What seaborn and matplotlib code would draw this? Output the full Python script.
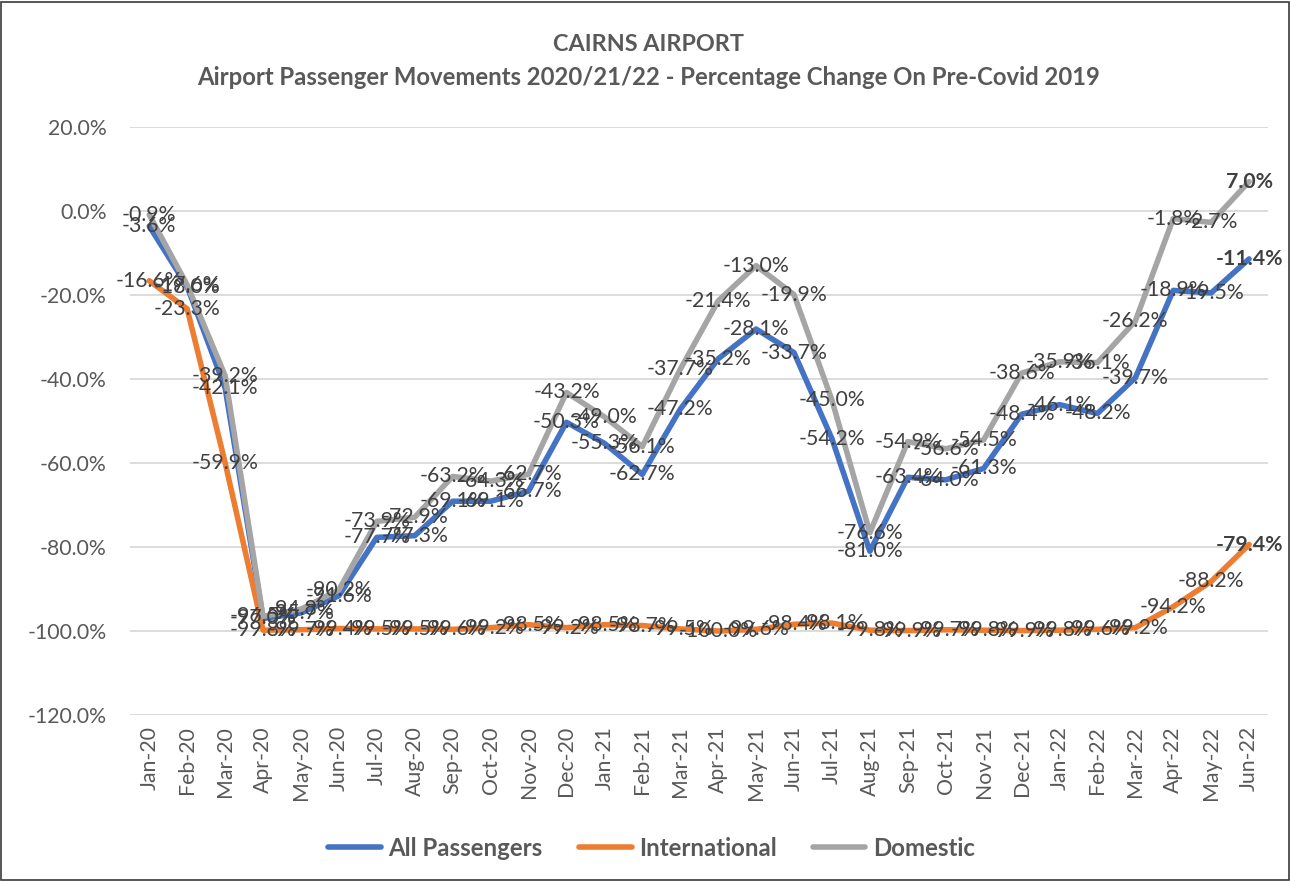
import numpy as np
import pandas as pd
import matplotlib
matplotlib.use("Agg")
import matplotlib.pyplot as plt
import seaborn as sns
from matplotlib.patches import Rectangle

# Chart data (percentage change on 2019)
months = ['Jan-20', 'Feb-20', 'Mar-20', 'Apr-20', 'May-20', 'Jun-20', 'Jul-20', 'Aug-20',
          'Sep-20', 'Oct-20', 'Nov-20', 'Dec-20', 'Jan-21', 'Feb-21', 'Mar-21', 'Apr-21',
          'May-21', 'Jun-21', 'Jul-21', 'Aug-21', 'Sep-21', 'Oct-21', 'Nov-21', 'Dec-21',
          'Jan-22', 'Feb-22', 'Mar-22', 'Apr-22', 'May-22', 'Jun-22']
all_pax = [-3.6, -18.0, -42.1, -97.0, -95.7, -91.6, -77.7, -77.3, -69.1, -69.1,
           -66.7, -50.3, -55.3, -62.7, -47.2, -35.2, -28.1, -33.7, -54.2, -81.0,
           -63.4, -64.0, -61.3, -48.4, -46.1, -48.2, -39.7, -18.9, -19.5, -11.4]
international = [-16.6, -23.3, -59.9, -99.8, -99.7, -99.4, -99.5, -99.5, -99.6, -99.2,
                 -98.5, -99.2, -98.5, -98.7, -99.5, -100.0, -99.6, -98.4, -98.1, -99.8,
                 -99.9, -99.7, -99.8, -99.9, -99.8, -99.6, -99.2, -94.2, -88.2, -79.4]
domestic = [-0.9, -17.6, -39.2, -96.5, -94.8, -90.2, -73.9, -72.9, -63.2, -64.3,
            -62.7, -43.2, -49.0, -56.1, -37.7, -21.4, -13.0, -19.9, -45.0, -76.6,
            -54.9, -56.6, -54.5, -38.6, -35.9, -36.1, -26.2, -1.8, -2.7, 7.0]

series = {'All Passengers': all_pax, 'International': international, 'Domestic': domestic}
colors = {'All Passengers': '#4472C4', 'International': '#ED7D31', 'Domestic': '#A5A5A5'}

df = pd.DataFrame({'Month': months * 3,
                   'idx': list(range(len(months))) * 3,
                   'Series': sum([[k] * len(months) for k in series], []),
                   'Value': sum([v for v in series.values()], [])})

sns.set_style("white")
plt.rcParams['font.family'] = ['Lato', 'DejaVu Sans']

fig = plt.figure(figsize=(12.9, 8.81), dpi=100)
ax = fig.add_axes([0.101, 0.1884, 0.882, 0.6674])

sns.lineplot(data=df, x='idx', y='Value', hue='Series', palette=colors,
             linewidth=4, ax=ax, legend=False, zorder=3)

# Data labels, centred on points
for name, vals in series.items():
    for i, v in enumerate(vals):
        last = i == len(vals) - 1
        ax.text(i, v, f"{v:.1f}%", ha='center', va='center', fontsize=15.3,
                color='#404040', fontweight='bold' if last else 'normal', zorder=5)

ax.set_xlim(-0.5, len(months) - 0.5)
ax.set_ylim(-120, 20)
ax.set_yticks(np.arange(-120, 21, 20))
ax.set_yticklabels([f"{t:.1f}%" for t in np.arange(-120, 21, 20)])
ax.set_xticks(range(len(months)))
ax.set_xticklabels(months, rotation=90)
ax.tick_params(axis='both', length=0, labelsize=15.3, labelcolor='#595959')
ax.tick_params(axis='y', pad=17)
ax.tick_params(axis='x', pad=8)
ax.grid(axis='y', color='#D9D9D9', linewidth=1.3)
ax.set_axisbelow(True)
for s in ax.spines.values():
    s.set_visible(False)
ax.set_xlabel('')
ax.set_ylabel('')

fig.text(0.503, 0.949, 'CAIRNS AIRPORT', ha='center', va='center',
         fontsize=16.8, fontweight='bold', color='#595959')
fig.text(0.503, 0.912, 'Airport Passenger Movements 2020/21/22 - Percentage Change On Pre-Covid 2019',
         ha='center', va='center', fontsize=17.2, fontweight='bold', color='#595959')

handles = [plt.Line2D([], [], color=colors[k], linewidth=4) for k in series]
leg = fig.legend(handles, list(series.keys()), loc='center', bbox_to_anchor=(0.505, 0.037),
                 ncol=3, frameon=False, handlelength=2.2, handletextpad=0.3,
                 columnspacing=1.5, prop={'size': 17.3, 'weight': 'bold'})
for t in leg.get_texts():
    t.set_color('#595959')

fig.patches.append(Rectangle((0.001, 0.001), 0.998, 0.997, transform=fig.transFigure,
                             fill=False, edgecolor='#3a3a3a', linewidth=1.2))

fig.savefig('out.png', dpi=100)
